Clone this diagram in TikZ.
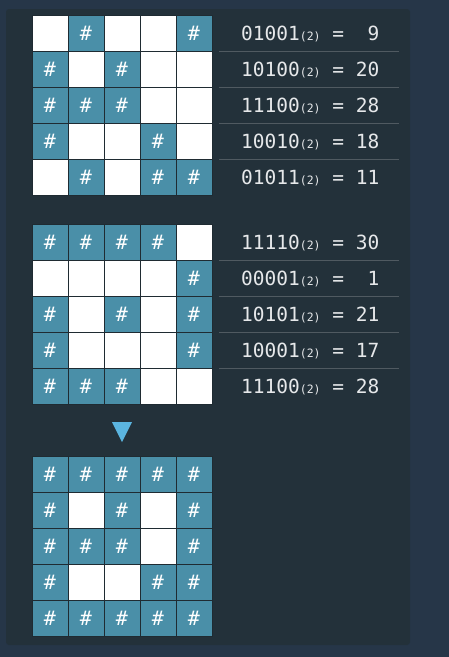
\documentclass[tikz,border=0pt]{standalone}
\usepackage{fontspec}
\setmonofont{DejaVu Sans Mono}
\newfontfamily\hashfont{DejaVu Sans Mono}
\definecolor{outerbg}{HTML}{263648}
\definecolor{panelbg}{HTML}{23313A}
\definecolor{cellon}{HTML}{4A8FA8}
\definecolor{gridline}{HTML}{1F2B32}
\definecolor{sepline}{HTML}{505A61}
\definecolor{txt}{HTML}{E6E8EA}
\definecolor{tri}{HTML}{5BB5E0}
\newcommand{\bsub}[1]{{\fontsize{11.5}{12}\selectfont #1}}
\tikzset{
  oncell/.style={draw=gridline, line width=1pt, fill=cellon, minimum size=36pt, inner sep=0pt, outer sep=0pt,
    text=white, font=\hashfont\fontsize{20}{20}\selectfont},
  offcell/.style={draw=gridline, line width=1pt, fill=white, minimum size=36pt, inner sep=0pt, outer sep=0pt},
  rowtext/.style={anchor=base west, inner sep=0pt, text=txt, font=\ttfamily\fontsize{19.5}{20}\selectfont},
  sep/.style={draw=sepline, line width=0.9pt}
}
\begin{document}
\begin{tikzpicture}[x=1pt,y=-1pt]
\useasboundingbox (0,0) rectangle (449,657);
\fill[outerbg] (0,0) rectangle (449,657);
\fill[panelbg, rounded corners=3pt] (6,9) rectangle (410,645);
% grids
\foreach \g/\top/\pat in {a/15.5/{0,1,0,0,1,1,0,1,0,0,1,1,1,0,0,1,0,0,1,0,0,1,0,1,1},
                          b/224/{1,1,1,1,0,0,0,0,0,1,1,0,1,0,1,1,0,0,0,1,1,1,1,0,0},
                          c/456/{1,1,1,1,1,1,0,1,0,1,1,1,1,0,1,1,0,0,1,1,1,1,1,1,1}}{
  \foreach \v [count=\i from 0] in \pat {
    \pgfmathtruncatemacro{\r}{div(\i,5)}
    \pgfmathtruncatemacro{\c}{mod(\i,5)}
    \ifnum\v=1
      \node[oncell] (\g-\r-\c) at ({50+36*\c},{\top+18+36*\r}) {\raisebox{-1.5pt}{\#}};
    \else
      \node[offcell] (\g-\r-\c) at ({50+36*\c},{\top+18+36*\r}) {};
    \fi
  }
}
% separators
\foreach \y in {51.5,87.5,123.5,159.5,260,296,332,368}{
  \draw[sep] (219,\y) -- (399,\y);
}
% texts, grid 1
\node[rowtext] (t1) at (241,40.7) {01001\bsub{(2)}\ =\ \hphantom{0}9};
\node[rowtext] (t2) at (241,76.7) {10100\bsub{(2)}\ =\ 20};
\node[rowtext] (t3) at (241,112.7) {11100\bsub{(2)}\ =\ 28};
\node[rowtext] (t4) at (241,148.7) {10010\bsub{(2)}\ =\ 18};
\node[rowtext] (t5) at (241,184.7) {01011\bsub{(2)}\ =\ 11};
% texts, grid 2
\node[rowtext] (u1) at (241,249.2) {11110\bsub{(2)}\ =\ 30};
\node[rowtext] (u2) at (241,285.2) {00001\bsub{(2)}\ =\ \hphantom{0}1};
\node[rowtext] (u3) at (241,321.2) {10101\bsub{(2)}\ =\ 21};
\node[rowtext] (u4) at (241,357.2) {10001\bsub{(2)}\ =\ 17};
\node[rowtext] (u5) at (241,393.2) {11100\bsub{(2)}\ =\ 28};
% arrow triangle
\fill[tri] (112,422) -- (132,422) -- (122,442) -- cycle;
\end{tikzpicture}
\end{document}
